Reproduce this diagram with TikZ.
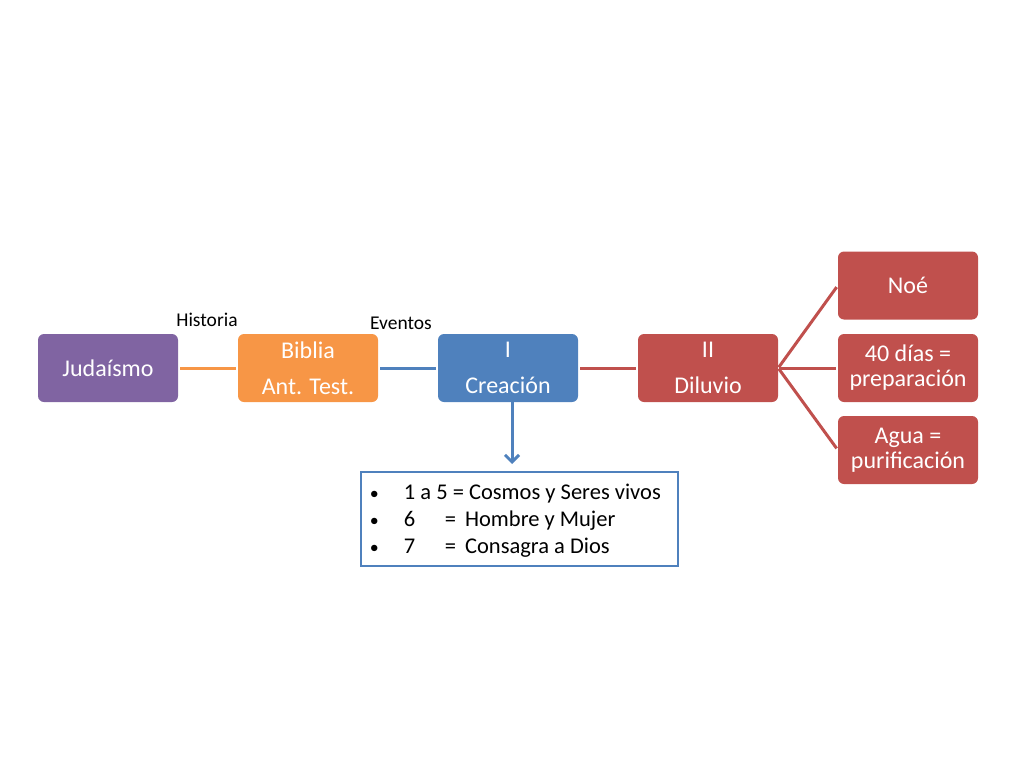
\documentclass[tikz,border=0pt]{standalone}
\usepackage{fontspec}
\setmainfont{Carlito}
\usetikzlibrary{arrows.meta}
\definecolor{cpurple}{HTML}{8064A2}
\definecolor{corange}{HTML}{F79646}
\definecolor{cblue}{HTML}{4F81BD}
\definecolor{cred}{HTML}{C0504D}
\newcommand{\mybul}{{\fontsize{18}{18}\selectfont\textbullet}}
\tikzset{
  box/.style={rounded corners=6pt, minimum width=140pt, minimum height=68pt, text=white, align=center, inner sep=0pt},
  bigtxt/.style={font=\fontsize{24}{36}\selectfont},
  smalltxt/.style={font=\fontsize{24}{25}\selectfont},
  link/.style={line width=3pt, shorten <=2pt, shorten >=2pt},
  lbl/.style={font=\fontsize{19.5}{22}\selectfont, inner sep=0pt}
}
\begin{document}
\begin{tikzpicture}[x=1pt,y=-1pt]
\useasboundingbox (0,0) rectangle (1024,768);
\node[box,bigtxt,fill=cpurple] (judaismo) at (108,368) {Judaísmo};
\node[box,bigtxt,fill=corange] (biblia) at (308,368) {Biblia\\Ant. Test.};
\node[box,bigtxt,fill=cblue] (creacion) at (508,368) {I\\Creación};
\node[box,bigtxt,fill=cred] (diluvio) at (708,368) {II\\Diluvio};
\node[box,smalltxt,fill=cred] (noe) at (908,285.5) {Noé};
\node[box,smalltxt,fill=cred] (dias) at (908,368) {40 días =\\preparación};
\node[box,smalltxt,fill=cred] (agua) at (908,450) {Agua =\\purificación};
\node[lbl] (historia) at (207,320) {Historia};
\node[lbl] (eventos) at (401,323) {Eventos};
\node[draw=cblue, line width=2.5pt, fill=white, minimum width=317pt, minimum height=94pt, inner sep=0pt] (info) at (519.5,519) {};
\node[anchor=west, inner sep=0pt, font=\fontsize{22.5}{27}\selectfont, align=left] (infotext) at ([xshift=10pt,yshift=-2pt]info.west) {%
  \begin{tabular}{@{}l@{\hspace{25pt}}l@{}}
  \mybul & 1 a 5 = Cosmos y Seres vivos\\
  \mybul & \rlap{6}\hspace{41pt}=\hspace{9pt}Hombre y Mujer\\
  \mybul & \rlap{7}\hspace{41pt}=\hspace{9pt}Consagra a Dios
  \end{tabular}};
\draw[link,corange] (judaismo) -- (biblia);
\draw[link,cblue] (biblia) -- (creacion);
\draw[link,cred] (creacion) -- (diluvio);
\draw[link,cred,shorten <=1pt] (diluvio.east) -- (noe.west);
\draw[link,cred,shorten <=1pt] (diluvio.east) -- (dias.west);
\draw[link,cred,shorten <=1pt] (diluvio.east) -- (agua.west);
\draw[line width=3pt,cblue,-{Straight Barb[length=7pt,width=14pt]}] (creacion.south) ++(4,0) coordinate (cs) -- (cs |- 0,464) coordinate (ce);
\end{tikzpicture}
\end{document}
